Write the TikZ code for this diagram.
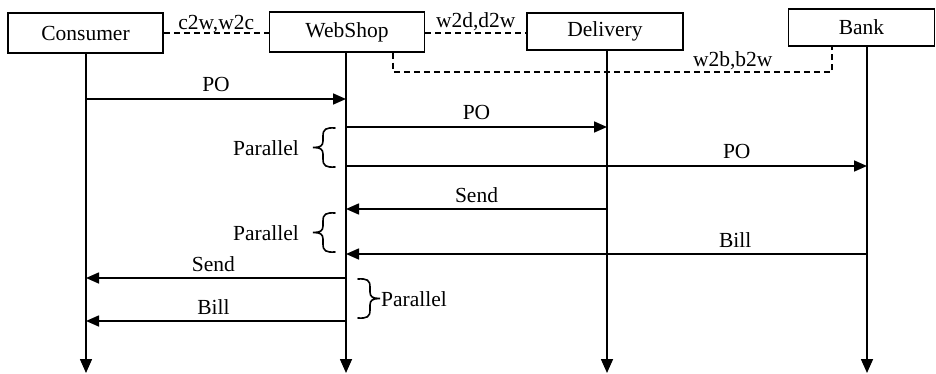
\documentclass[tikz,border=0pt]{standalone}
\usepackage{fontspec}
\setmainfont{Liberation Serif}
\usetikzlibrary{arrows.meta}
\begin{document}
\begin{tikzpicture}[x=1pt,y=-1pt,
  lbl/.style={font=\fontsize{21.5}{24}\selectfont,inner sep=0pt},
  actor/.style={draw,line width=1.5pt,minimum height=40pt,inner sep=0pt,lbl},
  life/.style={line width=1.6pt,-{Triangle[length=14pt,width=12pt]}},
  msg/.style={line width=1.6pt,-{Triangle[length=13pt,width=11pt]}},
  chan/.style={line width=1.3pt,dash pattern=on 6pt off 4pt},
  mlbl/.style={lbl,anchor=base,yshift=7pt},
  parbrace/.pic={
    \draw[line width=1.6pt,line cap=round]
      (0,0) .. controls (-9,-0.5) and (-12,1) .. (-12,8) -- (-12,13)
      .. controls (-12,18) and (-15,19.5) .. (-22,19.5)
      .. controls (-15,19.5) and (-12,21) .. (-12,26) -- (-12,31)
      .. controls (-12,38) and (-9,39.5) .. (0,39);
  }]
\useasboundingbox (0,0) rectangle (936,374);
% actors
\node[actor,minimum width=155pt] (con) at (85.5,33) {Consumer};
\node[actor,minimum width=155pt] (web) at (347,32) {WebShop};
\node[actor,minimum width=156pt,minimum height=37pt] (del) at (605,31.5) {Delivery};
\node[actor,minimum width=146pt,minimum height=37pt] (bank) at (861.5,27.5) {Bank};
% lifeline ends
\coordinate (conE) at (86,373);
\coordinate (webE) at (346,373);
\coordinate (delE) at (607,373);
\coordinate (bankE) at (867,373);
\draw[life] (con.south -| conE) -- (conE);
\draw[life] (web.south -| webE) -- (webE);
\draw[life] (del.south -| delE) -- (delE);
\draw[life] (bank.south -| bankE) -- (bankE);
% channels
\coordinate (ch) at (0,33);
\draw[chan] (con.east |- ch) -- node[lbl,anchor=base,yshift=3pt]{c2w,w2c} (web.west |- ch);
\draw[chan] (web.east |- ch) -- node[lbl,anchor=base,yshift=5pt]{w2d,d2w} (del.west |- ch);
\coordinate (wb1) at (393,72);
\coordinate (wb2) at (832,72);
\draw[chan] (web.south -| wb1) -- (wb1) -- node[pos=0.774,lbl,anchor=base,yshift=5pt]{w2b,b2w} (wb2) -- (bank.south -| wb2);
% message levels
\coordinate (m1) at (0,99);
\coordinate (m2) at (0,127);
\coordinate (m3) at (0,166);
\coordinate (m4) at (0,209);
\coordinate (m5) at (0,254);
\coordinate (m6) at (0,278);
\coordinate (m7) at (0,321);
\draw[msg] (conE |- m1) -- node[mlbl]{PO} (webE |- m1);
\draw[msg] (webE |- m2) -- node[mlbl]{PO} (delE |- m2);
\draw[msg] (webE |- m3) -- node[pos=0.75,mlbl]{PO} (bankE |- m3);
\draw[msg] (delE |- m4) -- node[mlbl]{Send} (webE |- m4);
\draw[msg] (bankE |- m5) -- node[pos=0.253,mlbl]{Bill} (webE |- m5);
\draw[msg] (webE |- m6) -- node[pos=0.51,mlbl]{Send} (conE |- m6);
\draw[msg] (webE |- m7) -- node[pos=0.51,mlbl]{Bill} (conE |- m7);
% braces
\pic at (335,128) {parbrace};
\pic at (335,213) {parbrace};
\pic[xscale=-1] at (358,279) {parbrace};
\node[lbl,anchor=east] (p1) at (299,148) {Parallel};
\node[lbl,anchor=east] (p2) at (299,233) {Parallel};
\node[lbl,anchor=west] (p3) at (381,299) {Parallel};
\end{tikzpicture}
\end{document}
